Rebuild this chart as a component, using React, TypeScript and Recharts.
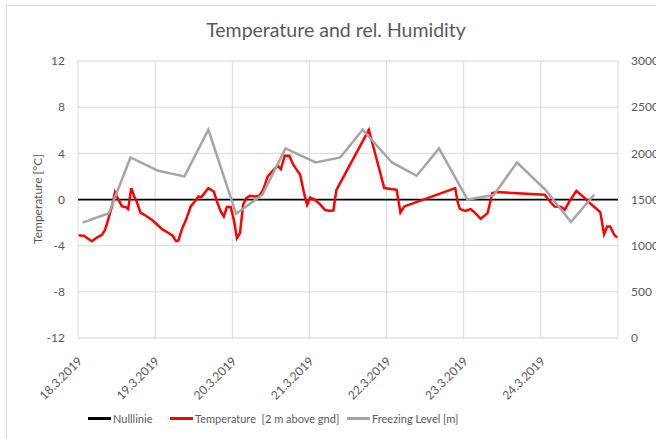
import { LineChart, Line, XAxis, YAxis, CartesianGrid } from "recharts";

const FONT = "Lato, 'Open Sans', sans-serif";
const TEXT = "#595959";
const GRID_MAJOR = "#d9d9d9";
const GRID_MINOR = "#f2f2f2";

// x in days since 18.3.2019 00:00
const dayTicks = [0, 1, 2, 3, 4, 5, 6, 7];
const dayLabels = ["18.3.2019", "19.3.2019", "20.3.2019", "21.3.2019", "22.3.2019", "23.3.2019", "24.3.2019"];
const tempTicks = [-12, -8, -4, 0, 4, 8, 12];
const minorTicks = [-12, -11, -10, -9, -8, -7, -6, -5, -4, -3, -2, -1, 0, 1, 2, 3, 4, 5, 6, 7, 8, 9, 10, 11, 12];
const levelTicks = [0, 500, 1000, 1500, 2000, 2500, 3000];

const nullT = [0, 7];
const nullV = [0, 0];

const tempT = [
  0.01, 0.08, 0.18, 0.24, 0.31, 0.35, 0.39, 0.44, 0.48, 0.52, 0.57, 0.62, 0.65, 0.69, 0.73, 0.76, 0.81, 0.88, 0.97,
  1.09, 1.18, 1.23, 1.27, 1.3, 1.35, 1.4, 1.46, 1.51, 1.56, 1.6, 1.69, 1.76, 1.8, 1.85, 1.89, 1.93, 1.98,
  2.02, 2.06, 2.1, 2.14, 2.18, 2.23, 2.29, 2.35, 2.4, 2.46, 2.53, 2.59, 2.63, 2.68, 2.74, 2.79, 2.84, 2.88, 2.93, 2.97,
  3.01, 3.07, 3.13, 3.2, 3.25, 3.31, 3.35, 3.77, 3.97, 4.13, 4.18, 4.23, 4.89, 4.92, 4.95,
  5.02, 5.09, 5.15, 5.22, 5.31, 5.37, 5.42, 6.05, 6.13, 6.18, 6.26, 6.31, 6.37, 6.46, 6.53, 6.66, 6.77, 6.82, 6.86, 6.9, 6.95, 6.99,
];
const tempV = [
  -3.09, -3.15, -3.61, -3.32, -3.06, -2.63, -1.76, -0.6, 0.61, 0.03, -0.6, -0.66, -0.83, 0.99, 0.26, -0.17, -1.13, -1.41, -1.82,
  -2.57, -2.92, -3.15, -3.61, -3.56, -2.52, -1.76, -0.61, -0.2, 0.26, 0.21, 0.99, 0.69, -0.17, -1.04, -1.47, -0.66, -0.66,
  -1.76, -3.35, -2.92, -0.46, 0.12, 0.32, 0.26, 0.32, 0.84, 2.0, 2.52, 2.92, 2.64, 3.79, 3.79, 3.01, 2.52, 2.14, 0.55, -0.46,
  0.17, -0.03, -0.37, -0.89, -0.98, -0.95, 0.84, 6.04, 0.99, 0.84, -1.13, -0.6, 0.99, -0.17, -0.81,
  -0.98, -0.83, -1.18, -1.67, -1.18, 0.55, 0.64, 0.41, -0.26, -0.61, -0.63, -0.89, -0.17, 0.75, 0.35, -0.46, -1.09, -3.0, -2.34, -2.34, -3.06, -3.3,
];

const levelT = [0.06, 0.4, 0.68, 1.04, 1.38, 1.69, 2.05, 2.39, 2.69, 3.08, 3.4, 3.69, 4.07, 4.39, 4.68, 5.05, 5.39, 5.69, 6.06, 6.39, 6.69];
const levelV = [1250, 1352, 1955, 1811, 1750, 2255, 1345, 1551, 2053, 1901, 1955, 2255, 1901, 1757, 2053, 1500, 1548, 1901, 1605, 1255, 1551];

const nullData = nullT.map((t, i) => ({ t, v: nullV[i] }));
const tempData = tempT.map((t, i) => ({ t, v: tempV[i] }));
const levelData = levelT.map((t, i) => ({ t, v: levelV[i] }));

const legendItems = [
  { name: "Nulllinie", color: "#000000", left: 88 },
  { name: "Temperature  [2 m above gnd]", color: "#ff0000", left: 170 },
  { name: "Freezing Level [m]", color: "#a5a5a5", left: 347 },
];

function DayTick(props: any) {
  const { x, y, payload } = props;
  const label = dayLabels[payload.value];
  if (!label) return null;
  const ax = x + 5;
  const ay = y + 16;
  return (
    <text
      x={ax}
      y={ay}
      transform={`rotate(-45 ${ax} ${ay})`}
      textAnchor="end"
      fill={TEXT}
      fontSize={12}
      fontFamily={FONT}
    >
      {label}
    </text>
  );
}

export default function App() {
  return (
    <div
      style={{
        position: "absolute",
        left: 0,
        top: 0,
        width: 656,
        height: 439,
        overflow: "hidden",
        background: "#fff",
        fontFamily: FONT,
      }}
    >
      <div
        style={{
          position: "absolute",
          left: 6,
          top: 5,
          width: 700,
          height: 500,
          border: `1px solid ${GRID_MAJOR}`,
        }}
      />
      <div
        style={{
          position: "absolute",
          left: 0,
          width: 672,
          top: 18,
          textAlign: "center",
          fontSize: 19.5,
          color: TEXT,
        }}
      >
        Temperature and rel. Humidity
      </div>
      <div
        style={{
          position: "absolute",
          left: 37,
          top: 199,
          transform: "translate(-50%, -50%) rotate(-90deg)",
          whiteSpace: "nowrap",
          fontSize: 12,
          color: TEXT,
        }}
      >
        Temperature [°C]
      </div>
      <div style={{ position: "absolute", left: 0, top: 0 }}>
        <LineChart width={656} height={439} margin={{ top: 61, right: 8, bottom: 41, left: 20 }}>
          <XAxis
            dataKey="t"
            type="number"
            domain={[0, 7]}
            ticks={dayTicks}
            interval={0}
            axisLine={false}
            tickLine={false}
            height={60}
            tick={<DayTick />}
          />
          <YAxis yAxisId="minor" domain={[-12, 12]} ticks={minorTicks} hide />
          <YAxis
            yAxisId="left"
            domain={[-12, 12]}
            ticks={tempTicks}
            interval={0}
            axisLine={false}
            tickLine={false}
            tickMargin={7}
            width={58}
            tick={{ fill: TEXT, fontSize: 12, fontFamily: FONT }}
          />
          <YAxis
            yAxisId="right"
            orientation="right"
            domain={[0, 3000]}
            ticks={levelTicks}
            interval={0}
            axisLine={false}
            tickLine={false}
            tickMargin={7}
            width={30}
            tick={{ fill: TEXT, fontSize: 12, fontFamily: FONT, textAnchor: "start" }}
          />
          <CartesianGrid yAxisId="minor" stroke={GRID_MINOR} vertical={false} />
          <CartesianGrid yAxisId="left" stroke={GRID_MAJOR} />
          <Line
            yAxisId="left"
            data={nullData}
            dataKey="v"
            name="Nulllinie"
            type="linear"
            stroke="#000000"
            strokeWidth={1.75}
            dot={false}
            isAnimationActive={false}
          />
          <Line
            yAxisId="left"
            data={tempData}
            dataKey="v"
            name="Temperature  [2 m above gnd]"
            type="linear"
            stroke="#ff0000"
            strokeWidth={2.5}
            dot={false}
            isAnimationActive={false}
          />
          <Line
            yAxisId="right"
            data={levelData}
            dataKey="v"
            name="Freezing Level [m]"
            type="linear"
            stroke="#a5a5a5"
            strokeWidth={2.5}
            dot={false}
            isAnimationActive={false}
          />
        </LineChart>
      </div>
      {legendItems.map((item) => (
        <div
          key={item.name}
          style={{
            position: "absolute",
            left: item.left,
            top: 412,
            display: "flex",
            alignItems: "center",
            fontSize: 11,
            color: TEXT,
            whiteSpace: "pre",
          }}
        >
          <span style={{ display: "inline-block", width: 23, height: 3, background: item.color, marginRight: 2 }} />
          {item.name}
        </div>
      ))}
    </div>
  );
}
